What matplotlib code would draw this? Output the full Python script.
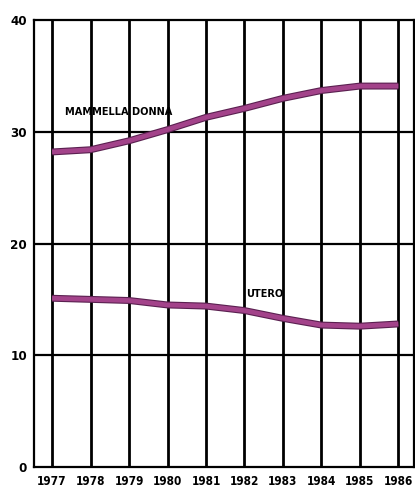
import matplotlib.pyplot as plt

# Dati
anni = [1977, 1978, 1979, 1980, 1981, 1982, 1983, 1984, 1985, 1986]
mammella_donna = [28.2, 28.4, 29.2, 30.2, 31.3, 32.1, 33.0, 33.7, 34.1, 34.1]
utero = [15.1, 15.0, 14.9, 14.5, 14.4, 14.0, 13.3, 12.7, 12.6, 12.8]
y_ticks = [0, 10, 20, 30, 40]

font = ['DejaVu Sans']

fig = plt.figure(figsize=(4.15, 4.92), dpi=100)
ax = fig.add_axes([0.082, 0.051, 0.915, 0.908])

# griglia nera
for a in anni:
    ax.axvline(a, color='black', linewidth=2, zorder=1)
for v in y_ticks[1:-1]:
    ax.axhline(v, color='black', linewidth=1.6, zorder=1)

colore = '#a3438a'
for serie in (mammella_donna, utero):
    ax.plot(anni, serie, color='#5a2050', linewidth=5, solid_capstyle='butt', zorder=2)
    ax.plot(anni, serie, color=colore, linewidth=3.4, solid_capstyle='butt', zorder=3)

ax.text(1977.34, 31.8, 'MAMMELLA DONNA', family=font, fontweight='bold',
        fontstretch='condensed', fontsize=7.8, va='center', ha='left', zorder=4)
ax.text(1982.05, 15.5, 'UTERO', family=font, fontweight='bold',
        fontstretch='condensed', fontsize=7.8, va='center', ha='left', zorder=4)

ax.set_xlim(1976.53, 1986.4)
ax.set_ylim(0, 40)
ax.set_xticks(anni)
ax.set_xticklabels([str(a) for a in anni], family=font, fontweight='bold',
                   fontstretch='condensed', fontsize=8.5)
ax.set_yticks(y_ticks)
ax.set_yticklabels([str(v) for v in y_ticks], family=font, fontweight='bold',
                   fontstretch='condensed', fontsize=9.5)
ax.tick_params(axis='x', length=0, pad=6)
ax.tick_params(axis='y', length=0, pad=5)
for s in ax.spines.values():
    s.set_linewidth(1.6)

fig.savefig('out.png', dpi=100)
